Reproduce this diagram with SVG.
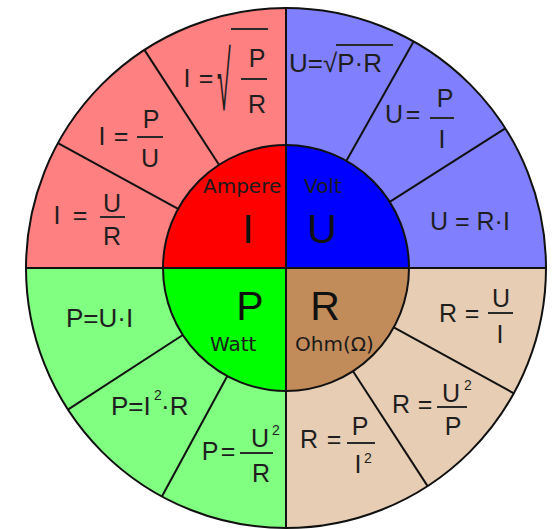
<svg xmlns="http://www.w3.org/2000/svg" width="552" height="529" viewBox="0 0 552 529">
<style>
.f{font-family:"Liberation Sans",Arial,sans-serif;font-size:25px;fill:#1e1e1e}
.m{text-anchor:middle}
.s{font-size:14px}
.big{font-family:"Liberation Sans",Arial,sans-serif;font-size:41px;fill:#111;text-anchor:middle}
.lab{font-family:"DejaVu Sans",sans-serif;font-size:20px;fill:#1a1a1a}
.bar{stroke:#2a2a2a;stroke-width:2}
.div{stroke:#111;stroke-width:2;fill:none}
</style>
<rect width="552" height="529" fill="#fff"/>
<g id="sector-I">
<path d="M286,268 L26,268 A260,260 0 0 1 286,8 Z" fill="#ff8080"/>
<path d="M286,268 L163,268 A123,123 0 0 1 286,145 Z" fill="#ff0000"/>
</g>
<g id="sector-U">
<path d="M286,268 L286,8 A260,260 0 0 1 546,268 Z" fill="#8080ff"/>
<path d="M286,268 L286,145 A123,123 0 0 1 409,268 Z" fill="#0000ff"/>
</g>
<g id="sector-P">
<path d="M286,268 L286,528 A260,260 0 0 1 26,268 Z" fill="#80ff80"/>
<path d="M286,268 L286,391 A123,123 0 0 1 163,268 Z" fill="#00ff00"/>
</g>
<g id="sector-R">
<path d="M286,268 L546,268 A260,260 0 0 1 286,528 Z" fill="#e6cdb3"/>
<path d="M286,268 L409,268 A123,123 0 0 1 286,391 Z" fill="#c28c5a"/>
</g>
<g id="dividers" class="div">
<line x1="178.1" y1="208.9" x2="58" y2="143.1"/>
<line x1="219" y1="164.8" x2="144.4" y2="49.9"/>
<line x1="346.4" y1="160.8" x2="413.6" y2="41.5"/>
<line x1="389.7" y1="201.9" x2="505.3" y2="128.3"/>
<line x1="182.8" y1="335" x2="67.9" y2="409.6"/>
<line x1="227.3" y1="376.1" x2="161.9" y2="496.5"/>
<line x1="393.8" y1="327.3" x2="513.8" y2="393.3"/>
<line x1="353" y1="371.2" x2="427.6" y2="486.1"/>
<circle cx="286" cy="268" r="123"/>
<circle cx="286" cy="268" r="260"/>
<line x1="26" y1="268" x2="546" y2="268"/>
<line x1="286" y1="8" x2="286" y2="528"/>
</g>
<g id="labels">
<text class="lab" x="203" y="193">Ampere</text>
<text class="lab" x="304" y="193">Volt</text>
<text class="lab" x="210" y="351">Watt</text>
<text class="lab" x="295" y="351">Ohm(Ω)</text>
<text class="big" x="248" y="243">I</text>
<text class="big" x="322" y="243">U</text>
<text class="big" x="250" y="320">P</text>
<text class="big" x="325" y="320">R</text>
</g>
<g id="formulas-I">
<text class="f m" x="57" y="224">I</text>
<text class="f m" x="80" y="224">=</text>
<line class="bar" x1="100" y1="217" x2="125" y2="217"/>
<text class="f m" x="112" y="212">U</text>
<text class="f m" x="112" y="245">R</text>
<text class="f m" x="102" y="145">I</text>
<text class="f m" x="121" y="145">=</text>
<line class="bar" x1="137" y1="137" x2="163" y2="137"/>
<text class="f m" x="151" y="128">P</text>
<text class="f m" x="150" y="167">U</text>
<text class="f m" x="187" y="87">I</text>
<text class="f m" x="206" y="87">=</text>
<text class="f" transform="translate(217,110) scale(1,3.3)">√</text>
<line class="bar" x1="231" y1="29" x2="268" y2="29"/>
<text class="f m" x="257" y="67">P</text>
<line class="bar" x1="241" y1="79" x2="267" y2="79"/>
<text class="f m" x="257" y="113">R</text>
</g>
<g id="formulas-U">
<text class="f" x="289" y="72" style="font-size:26px">U=√P·R</text>
<line class="bar" x1="336" y1="45" x2="393" y2="45"/>
<text class="f m" x="394" y="123">U</text>
<text class="f m" x="413" y="123">=</text>
<line class="bar" x1="430" y1="118" x2="454" y2="118"/>
<text class="f m" x="445" y="107">P</text>
<text class="f m" x="442" y="148">I</text>
<text class="f" x="430" y="230">U = R·I</text>
</g>
<g id="formulas-P">
<text class="f" x="66" y="327" style="font-size:26px">P=U·I</text>
<text class="f" x="111" y="415" style="font-size:26px">P=I</text>
<text class="f s" x="154" y="400">2</text>
<text class="f" x="161" y="415" style="font-size:26px">·R</text>
<text class="f m" x="210" y="460">P</text>
<text class="f m" x="228" y="460">=</text>
<line class="bar" x1="240" y1="453" x2="273" y2="453"/>
<text class="f m" x="260" y="447">U</text>
<text class="f s" x="272" y="435">2</text>
<text class="f m" x="261" y="482">R</text>
</g>
<g id="formulas-R">
<text class="f m" x="448" y="322">R</text>
<text class="f m" x="472" y="322">=</text>
<line class="bar" x1="488" y1="313" x2="513" y2="313"/>
<text class="f m" x="501" y="307">U</text>
<text class="f m" x="500" y="343">I</text>
<text class="f m" x="401" y="413">R</text>
<text class="f m" x="425" y="413">=</text>
<line class="bar" x1="437" y1="407" x2="467" y2="407"/>
<text class="f m" x="451" y="402">U</text>
<text class="f s" x="464" y="390">2</text>
<text class="f m" x="453" y="435">P</text>
<text class="f m" x="309" y="448">R</text>
<text class="f m" x="334" y="448">=</text>
<line class="bar" x1="347" y1="443" x2="375" y2="443"/>
<text class="f m" x="360" y="435">P</text>
<text class="f m" x="358" y="473">I</text>
<text class="f s" x="364" y="463">2</text>
</g>
</svg>
